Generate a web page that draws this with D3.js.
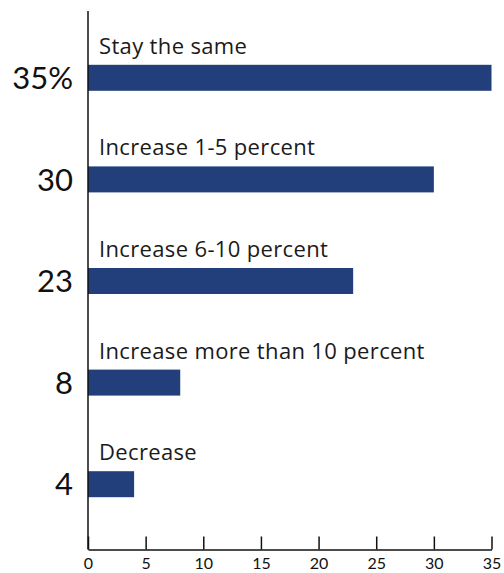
<!DOCTYPE html>
<html>
<head>
<meta charset="utf-8">
<script src="https://cdn.jsdelivr.net/npm/d3@7"></script>
<style>
  html, body { margin: 0; padding: 0; background: #fff; }
  svg { display: block; font-family: Lato, "Open Sans", sans-serif; }
</style>
</head>
<body>
<svg id="chart" width="504" height="573"></svg>
<script>
// Survey answers, top to bottom
const categories = [
  "Stay the same",
  "Increase 1-5 percent",
  "Increase 6-10 percent",
  "Increase more than 10 percent",
  "Decrease"
];
const values = [35, 30, 23, 8, 4];
const valueLabels = ["35%", "30", "23", "8", "4"];
const xTicks = [0, 5, 10, 15, 20, 25, 30, 35];

const data = categories.map((c, i) => ({ category: c, value: values[i], label: valueLabels[i] }));

const svg = d3.select("#chart");
const barColor = "#223f7b";
const barHeight = 26;

const x = d3.scaleLinear().domain([0, 35]).range([88, 491.5]);
const y = d3.scaleBand().domain(categories).range([27, 535]).padding(0);

const axisBottom = 549.5;
const axisTop = 11;

// Bars
svg.append("g")
  .selectAll("rect")
  .data(data)
  .join("rect")
  .attr("x", x(0))
  .attr("y", d => y(d.category) + (y.bandwidth() - barHeight) / 2)
  .attr("width", d => x(d.value) - x(0))
  .attr("height", barHeight)
  .attr("fill", barColor);

// Category labels above each bar
svg.append("g")
  .selectAll("text")
  .data(data)
  .join("text")
  .attr("x", 99)
  .attr("y", d => y(d.category) + (y.bandwidth() - barHeight) / 2 - 11)
  .attr("font-family", "'Open Sans', Lato, sans-serif")
  .attr("font-size", 22)
  .attr("letter-spacing", 0.35)
  .attr("fill", "#1a1a1a")
  .text(d => d.category);

// Large value labels left of the axis
svg.append("g")
  .selectAll("text")
  .data(data)
  .join("text")
  .attr("x", 73)
  .attr("y", d => y(d.category) + y.bandwidth() / 2)
  .attr("dy", "0.36em")
  .attr("text-anchor", "end")
  .attr("font-size", 31)
  .attr("fill", "#111")
  .text(d => d.label);

// Vertical axis line
svg.append("line")
  .attr("x1", x(0)).attr("x2", x(0))
  .attr("y1", axisTop).attr("y2", axisBottom)
  .attr("stroke", "#111")
  .attr("stroke-width", 1.5);

// Bottom axis with inward ticks
const xAxis = d3.axisBottom(x)
  .tickValues(xTicks)
  .tickSizeInner(-13)
  .tickSizeOuter(0)
  .tickPadding(8)
  .tickFormat(d3.format("d"));

const gx = svg.append("g")
  .attr("transform", `translate(0,${axisBottom})`)
  .call(xAxis);
gx.select(".domain").attr("stroke", "#111").attr("stroke-width", 1.5);
gx.selectAll(".tick line").attr("stroke", "#111").attr("stroke-width", 1.5);
gx.selectAll(".tick text")
  .attr("font-family", "Lato, 'Open Sans', sans-serif")
  .attr("font-size", 16)
  .attr("fill", "#111");
</script>
</body>
</html>
